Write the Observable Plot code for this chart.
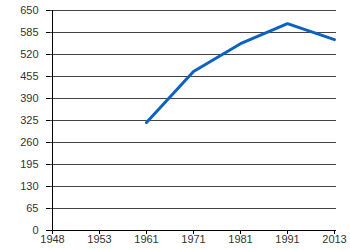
<!DOCTYPE html>
<html>
<head>
<meta charset="utf-8">
<script src="https://cdn.jsdelivr.net/npm/d3@7"></script>
<script src="https://cdn.jsdelivr.net/npm/@observablehq/plot@0.6"></script>
<style>
body { margin: 0; background: #fff; }
</style>
</head>
<body>
<div id="chart"></div>
<script>
const years = ["1948", "1953", "1961", "1971", "1981", "1991", "2013"];
const lineYears = ["1961", "1971", "1981", "1991", "2013"];
const values = [319, 470, 552, 611, 564];
const yTicks = [0, 65, 130, 195, 260, 325, 390, 455, 520, 585, 650];

const data = lineYears.map((y, i) => ({ year: y, value: values[i] }));

const chart = Plot.plot({
  width: 350,
  height: 250,
  marginLeft: 50,
  marginRight: 14,
  marginTop: 10,
  marginBottom: 20,
  style: { fontFamily: "Liberation Sans, Arial, sans-serif", fontSize: "11px", color: "#333", background: "#fff" },
  x: { type: "point", domain: years, padding: 0, label: null },
  y: { domain: [0, 650], label: null },
  marks: [
    Plot.ruleY(yTicks.slice(1), { stroke: "#444", strokeWidth: 1, strokeOpacity: 1 }),
    Plot.axisY({ ticks: yTicks, tickSize: 4, tickPadding: 8, stroke: "#000", label: null, fill: "#333" }),
    Plot.axisX({ ticks: years, tickSize: 4, tickPadding: 1, stroke: "#000", label: null, fill: "#333" }),
    Plot.ruleX([years[0]], { stroke: "#000", strokeWidth: 1 }),
    Plot.ruleY([0], { stroke: "#000", strokeWidth: 1 }),
    Plot.line(data, { x: "year", y: "value", stroke: "#0b63c1", strokeWidth: 3 })
  ]
});
document.getElementById("chart").appendChild(chart);
</script>
</body>
</html>
